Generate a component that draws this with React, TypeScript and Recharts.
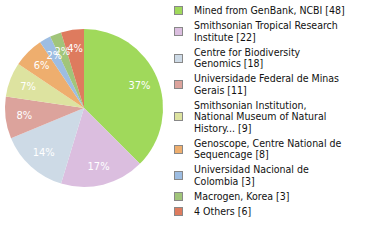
import React from 'react';
import { PieChart, Pie, Cell, Legend } from 'recharts';

const SOURCES = [
  'Mined from GenBank, NCBI',
  'Smithsonian Tropical Research\nInstitute',
  'Centre for Biodiversity\nGenomics',
  'Universidade Federal de Minas\nGerais',
  'Smithsonian Institution,\nNational Museum of Natural\nHistory...',
  'Genoscope, Centre National de\nSequencage',
  'Universidad Nacional de\nColombia',
  'Macrogen, Korea',
  '4 Others',
];

const COUNTS = [48, 22, 18, 11, 9, 8, 3, 3, 6];

const COLORS = ['#a0d95b', '#dbbedf', '#cddae6', '#dca39c', '#dde3a0', '#eeae6e', '#9dbde2', '#a1c57a', '#de7b5e'];

const FONT = '"DejaVu Sans Condensed", "DejaVu Sans", sans-serif';

const chartData = SOURCES.map((name, i) => ({ name, value: COUNTS[i] }));

const RADIAN = Math.PI / 180;

const renderLabel = (props: any) => {
  const { cx, cy, midAngle, outerRadius, percent } = props;
  const r = outerRadius * 0.76;
  const x = cx + r * Math.cos(-midAngle * RADIAN);
  const y = cy + r * Math.sin(-midAngle * RADIAN);
  return (
    <text x={x} y={y} fill="#ffffff" fontSize={11} fontFamily={FONT} textAnchor="middle" dominantBaseline="central">
      {`${Math.floor(percent * 100)}%`}
    </text>
  );
};

const renderLegend = () => (
  <div style={{ fontFamily: FONT, fontSize: 10.5, color: '#111', lineHeight: '11.5px' }}>
    {chartData.map((d, i) => (
      <div key={d.name} style={{ display: 'flex', alignItems: 'center', marginBottom: 3.5 }}>
        <div
          style={{
            width: 7,
            height: 7,
            background: COLORS[i],
            border: '1px solid #888',
            marginRight: 11,
            flexShrink: 0,
          }}
        />
        <div style={{ whiteSpace: 'pre-line' }}>{`${d.name} [${d.value}]`}</div>
      </div>
    ))}
  </div>
);

export default function App() {
  return (
    <div style={{ position: 'absolute', left: 0, top: 0, width: 380, height: 240, background: '#fff' }}>
      <PieChart width={380} height={240} margin={{ top: 0, right: 0, bottom: 0, left: 0 }}>
        <Pie
          data={chartData}
          dataKey="value"
          nameKey="name"
          cx={84}
          cy={108}
          outerRadius={79}
          startAngle={90}
          endAngle={-270}
          stroke="none"
          label={renderLabel}
          labelLine={false}
          isAnimationActive={false}
        >
          {chartData.map((d, i) => (
            <Cell key={d.name} fill={COLORS[i]} />
          ))}
        </Pie>
        <Legend
          layout="vertical"
          align="right"
          verticalAlign="top"
          content={renderLegend}
          wrapperStyle={{ position: 'absolute', left: 174, top: 5, width: 206 }}
        />
      </PieChart>
    </div>
  );
}
